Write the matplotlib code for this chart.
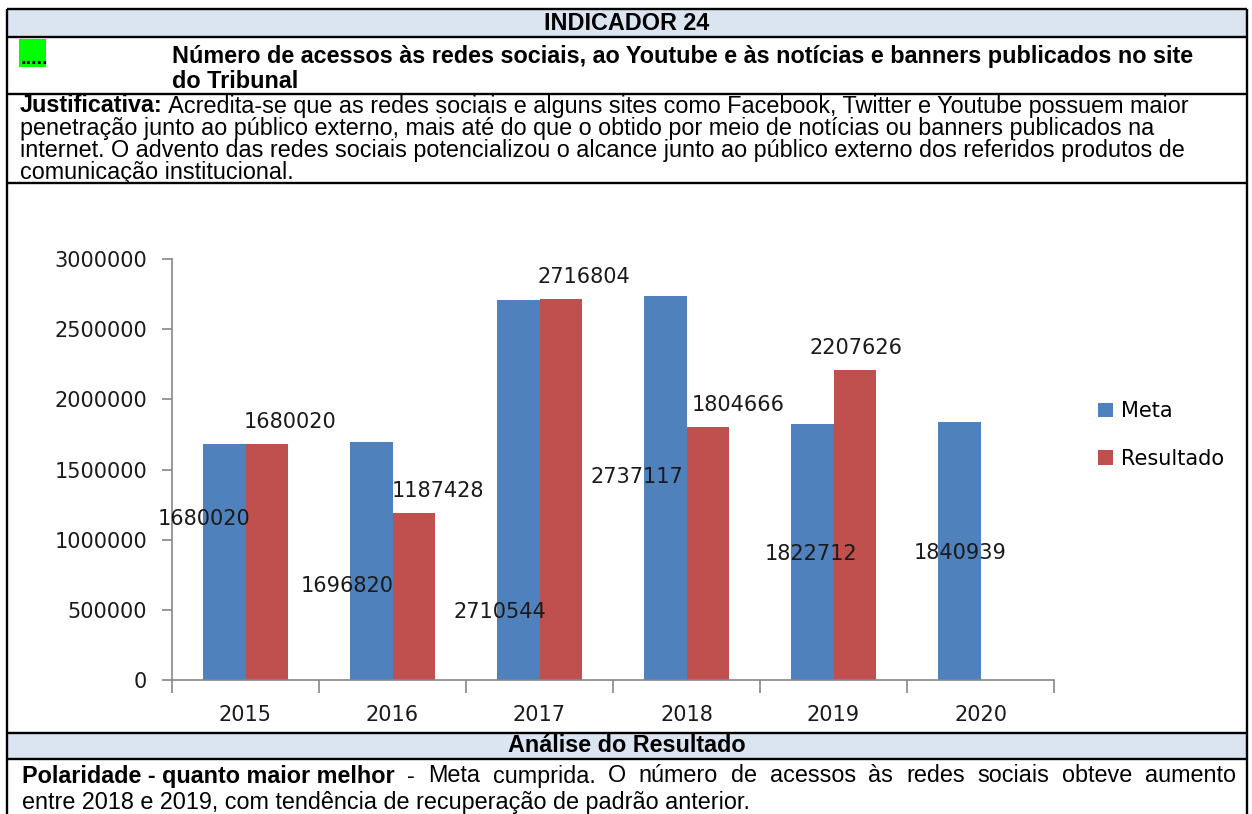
import numpy as np
import matplotlib.pyplot as plt
from matplotlib.patches import Rectangle, Patch
from matplotlib.ticker import FuncFormatter

# chart data
anos = ['2015', '2016', '2017', '2018', '2019', '2020']
meta = [1680020, 1696820, 2710544, 2737117, 1822712, 1840939]
resultado = [1680020, 1187428, 2716804, 1804666, 2207626, np.nan]

# Excel put the Meta labels in odd places
meta_lbl_dx = [-0.28, -0.31, -0.27, -0.34, -0.15, -0.14]
meta_lbl_y = [1146000, 669000, 484000, 1445000, 897000, 904000]
res_lbl_dx = [0.30, 0.31, 0.30, 0.35, 0.15, 0.0]

AZUL = '#4F81BD'
VERMELHO = '#C0504D'
CINZA = '#868686'
TXT = '#1a1a1a'

W, H = 1252, 814
fig = plt.figure(figsize=(W / 100, H / 100), dpi=100)

# ---- table / page layer, drawn in pixel coordinates ----
pg = fig.add_axes([0, 0, 1, 1])
pg.set_xlim(0, W)
pg.set_ylim(H, 0)
pg.axis('off')

L, R = 7, 1247
pg.add_patch(Rectangle((L, 9), R - L, 28, fc='#DBE5F1', ec='none'))
pg.add_patch(Rectangle((L, 733), R - L, 26, fc='#DBE5F1', ec='none'))
pg.add_patch(Rectangle((19, 39), 27, 28, fc='#00FF00', ec='none'))
pg.hlines([9, 37, 94, 183, 733, 759], L, R, color='black', lw=1.7)
pg.vlines([L, R], 9, H, color='black', lw=1.7)

fnt = dict(family='Liberation Sans', fontsize=16.8, color='black')

pg.text(627, 23, 'INDICADOR 24', ha='center', va='center', weight='bold', **fnt)
pg.text(21, 64, '.....', ha='left', va='baseline', weight='bold',
        family='Liberation Sans', fontsize=14, color='black')
pg.text(172, 56, 'Número de acessos às redes sociais, ao Youtube e às notícias e banners publicados no site',
        va='center', weight='bold', **fnt)
pg.text(172, 82, 'do Tribunal', va='center', weight='bold', **fnt)

t = pg.text(20, 106, 'Justificativa:', va='center', weight='bold', **fnt)
pg.annotate(' Acredita-se que as redes sociais e alguns sites como Facebook, Twitter e Youtube possuem maior',
            xy=(1, 0), xycoords=t, ha='left', va='bottom', **fnt)
pg.text(20, 128.5, 'penetração junto ao público externo, mais até do que o obtido por meio de notícias ou banners publicados na',
        va='center', **fnt)
pg.text(20, 150.5, 'internet. O advento das redes sociais potencializou o alcance junto ao público externo dos referidos produtos de',
        va='center', **fnt)
pg.text(20, 172, 'comunicação institucional.', va='center', **fnt)

pg.text(627, 746, 'Análise do Resultado', ha='center', va='center', weight='bold', **fnt)

# first line of the analysis is justified to the right edge
rend = fig.canvas.get_renderer()
inv = pg.transData.inverted()
t2 = pg.text(22, 776, 'Polaridade - quanto maior melhor', va='center', weight='bold', **fnt)
bb = t2.get_window_extent(rend)
x0 = inv.transform((bb.x1, bb.y0))[0]
words = ['-', 'Meta', 'cumprida.', 'O', 'número', 'de', 'acessos', 'às', 'redes', 'sociais',
         'obteve', 'aumento']
wts = []
for w in words:
    tt = pg.text(0, 776, w, va='center', **fnt)
    b = tt.get_window_extent(rend)
    wts.append((tt, inv.transform((b.x1, b.y0))[0] - inv.transform((b.x0, b.y0))[0]))
gap = (1236 - x0 - sum(w for _, w in wts)) / len(words)
xc = x0
for tt, w in wts:
    xc += gap
    tt.set_x(xc)
    xc += w
pg.text(22, 803, 'entre 2018 e 2019, com tendência de recuperação de padrão anterior.', va='center', **fnt)

# ---- the bar chart ----
ax = fig.add_axes([172 / W, 1 - 680 / H, 882 / W, 421 / H])
x = np.arange(len(anos))
bw = 0.29
ax.bar(x, meta, width=-bw, align='edge', color=AZUL, label='Meta')
ax.bar(x, resultado, width=bw, align='edge', color=VERMELHO, label='Resultado')

cfont = dict(family='DejaVu Sans', fontsize=15, color=TXT)
for i, v in enumerate(meta):
    ax.text(x[i] + meta_lbl_dx[i], meta_lbl_y[i], str(v), ha='center', va='center', **cfont)
for i, v in enumerate(resultado):
    if np.isnan(v):
        continue
    ax.annotate(str(int(v)), xy=(x[i] + res_lbl_dx[i], v), xytext=(0, 16),
                textcoords='offset points', ha='center', va='center', **cfont)

ax.set_xlim(-0.5, 5.5)
ax.set_ylim(0, 3000000)
ax.set_yticks(np.arange(0, 3000001, 500000))
ax.yaxis.set_major_formatter(FuncFormatter(lambda v, p: f'{v:.0f}'))
ax.set_xticks(x)
ax.set_xticklabels(anos)
ax.set_xticks(np.arange(-0.5, 6, 1), minor=True)

for s in ['top', 'right']:
    ax.spines[s].set_visible(False)
for s in ['left', 'bottom']:
    ax.spines[s].set_color(CINZA)
    ax.spines[s].set_linewidth(1.2)

ax.tick_params(axis='y', length=7, width=1.2, color=CINZA, pad=11, labelsize=15, labelcolor=TXT)
ax.tick_params(axis='x', which='major', length=0, pad=18, labelsize=15, labelcolor=TXT)
ax.tick_params(axis='x', which='minor', length=9, width=1.2, color=CINZA, direction='out')
for lab in ax.get_xticklabels() + ax.get_yticklabels():
    lab.set_family('DejaVu Sans')
ax.patch.set_alpha(0)

fig.legend(handles=[Patch(fc=AZUL), Patch(fc=VERMELHO)], labels=['Meta', 'Resultado'],
           loc='center left', bbox_to_anchor=(1098 / W, 1 - 435 / H), frameon=False,
           handlelength=0.7, handleheight=0.7, handletextpad=0.4, labelspacing=1.3,
           borderpad=0, borderaxespad=0, prop=dict(family='DejaVu Sans', size=15))

fig.savefig('out.png', dpi=100)
